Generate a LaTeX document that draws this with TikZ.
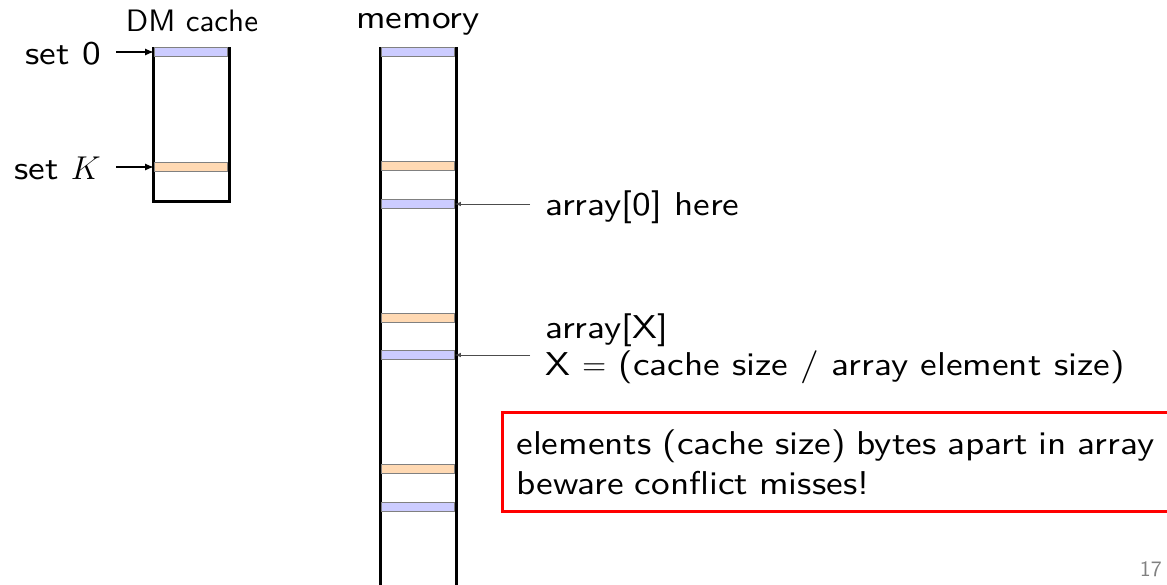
\RequirePackage{fix-cm}
\documentclass[tikz,border=0pt]{standalone}
\usepackage{fontspec}
\setsansfont{lmsans10-regular.otf}[FakeStretch=1.13]
\newfontfamily\headfont{lmsans10-regular.otf}
\usetikzlibrary{arrows,positioning}
\definecolor{slotblue}{RGB}{204,204,255}
\definecolor{slotorange}{RGB}{255,217,179}
\tikzstyle{Text} = [font=\sffamily\fontsize{33}{40}\selectfont, inner sep=0pt]
\tikzstyle{Head} = [font=\headfont\fontsize{31}{36}\selectfont, inner sep=0pt]
\tikzstyle{Slot} = [draw=gray, line width=1pt, minimum width=73pt, minimum height=8.5pt, inner sep=0pt]
\tikzstyle{BlueSlot} = [Slot, fill=slotblue]
\tikzstyle{OrangeSlot} = [Slot, fill=slotorange]
\tikzstyle{Wall} = [line width=3pt]

\begin{document}
\begin{tikzpicture}[x=1pt, y=-1pt]
    \useasboundingbox (0,0) rectangle (1167,584);
    % direct-mapped cache
    \draw[Wall] (153,48) rectangle (229,201);
    \node[BlueSlot]   (c0) at (191,52)  {};
    \node[OrangeSlot] (cK) at (191,167) {};
    \node[Head, anchor=base] (cache) at (192,31) {DM cache};
    \node[Text, anchor=base east] (set0) at (101,64)  {set 0};
    \node[Text, anchor=base east] (setK) at (101,179) {set $K$};
    \draw[-latex, line width=2pt, shorten <=15pt] (set0.east |- c0) to (c0.west);
    \draw[-latex, line width=2pt, shorten <=15pt] (setK.east |- cK) to (cK.west);
    % memory
    \draw[Wall] (380,590) -- (380,48) -- (456,48) -- (456,590);
    \node[Text, anchor=base] (memory) at (418,28) {memory};
    \node[BlueSlot]   (m0) at (418,52)  {};
    \node[OrangeSlot] (m1) at (418,166) {};
    \node[BlueSlot]   (m2) at (418,204) {};
    \node[OrangeSlot] (m3) at (418,318) {};
    \node[BlueSlot]   (m4) at (418,355) {};
    \node[OrangeSlot] (m5) at (418,469) {};
    \node[BlueSlot]   (m6) at (418,507) {};
    % labels
    \node[Text, anchor=base west] (first)  at (545,215) {array[0] here};
    \node[Text, anchor=base west] (other)  at (545,338) {array[X]};
    \node[Text, anchor=base west] (size)   at (545,375) {X $=$ (cache size / array element size)};
    \coordinate (firstend) at (530,204);
    \coordinate (otherend) at (530,355);
    \draw[-latex, line width=1pt, black!70] (firstend) to (m2.east);
    \draw[-latex, line width=1pt, black!70] (otherend) to (m4.east);
    % warning
    \node[Text, draw=red, line width=3pt, anchor=north west, text width=680pt,
          inner xsep=14pt, inner ysep=17pt, align=left] (warn) at (501,411)
          {elements (cache size) bytes apart in array\\beware conflict misses!};
    \node[font=\headfont\fontsize{22}{26}\selectfont, text=gray, inner sep=0pt,
          anchor=base east] (page) at (1162,576) {17};
\end{tikzpicture}
\end{document}
